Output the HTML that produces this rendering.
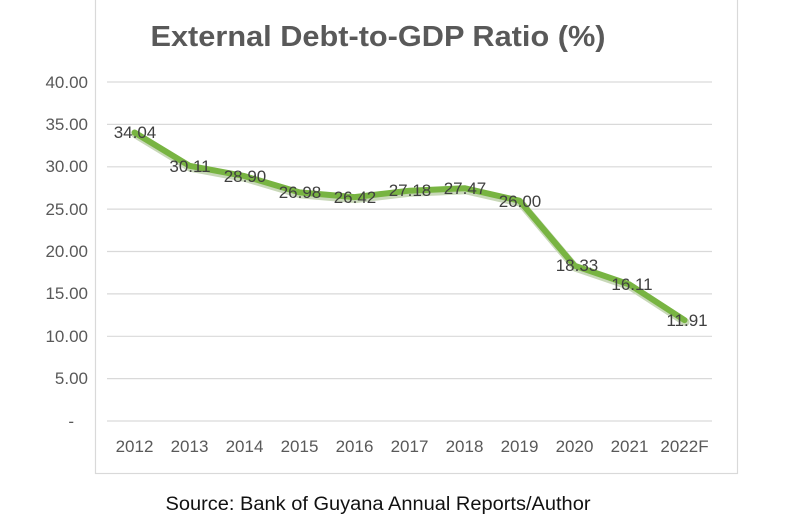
<!DOCTYPE html>
<html><head><meta charset="utf-8"><style>
body{margin:0;background:#fff;}
</style></head><body>
<svg width="798" height="523" xmlns="http://www.w3.org/2000/svg" style="display:block">
<rect x="0" y="0" width="798" height="523" fill="#fff"/>
<rect x="95.5" y="-2" width="642" height="475.5" fill="#fff" stroke="#d9d9d9" stroke-width="1.2"/>
<text x="378" y="46" text-anchor="middle" font-family="Liberation Sans, sans-serif" font-size="29" font-weight="bold" fill="#595959" textLength="455" lengthAdjust="spacingAndGlyphs">External Debt-to-GDP Ratio (%)</text>
<g stroke="#d9d9d9" stroke-width="1.2">
<line x1="107" x2="712" y1="82" y2="82"/><line x1="107" x2="712" y1="124.4" y2="124.4"/>
<line x1="107" x2="712" y1="166.8" y2="166.8"/><line x1="107" x2="712" y1="209.1" y2="209.1"/>
<line x1="107" x2="712" y1="251.5" y2="251.5"/><line x1="107" x2="712" y1="293.9" y2="293.9"/>
<line x1="107" x2="712" y1="336.3" y2="336.3"/><line x1="107" x2="712" y1="378.6" y2="378.6"/>
<line x1="107" x2="712" y1="421" y2="421"/>
</g>
<g font-family="Liberation Sans, sans-serif" font-size="17" fill="#595959" text-anchor="end">
<text x="88" y="88">40.00</text><text x="88" y="130">35.00</text><text x="88" y="172">30.00</text>
<text x="88" y="215">25.00</text><text x="88" y="257">20.00</text><text x="88" y="299">15.00</text>
<text x="88" y="342">10.00</text><text x="88" y="384">5.00</text><text x="74" y="427">-</text>
</g>
<g font-family="Liberation Sans, sans-serif" font-size="17" fill="#595959" text-anchor="middle">
<text x="134.5" y="452">2012</text><text x="189.5" y="452">2013</text><text x="244.5" y="452">2014</text>
<text x="299.5" y="452">2015</text><text x="354.5" y="452">2016</text><text x="409.5" y="452">2017</text>
<text x="464.5" y="452">2018</text><text x="519.5" y="452">2019</text><text x="574.5" y="452">2020</text>
<text x="629.5" y="452">2021</text><text x="684.5" y="452">2022F</text>
</g>
<polyline fill="none" stroke="#c8d8b8" stroke-width="8" stroke-linejoin="round" stroke-linecap="round" transform="translate(1,2)"
points="134.5,132.5 189.5,165.8 244.5,176.1 299.5,192.4 354.5,197.1 409.5,190.7 464.5,188.2 519.5,200.7 574.5,265.7 629.5,284.5 684.5,320.1"/>
<polyline fill="none" stroke="#78b442" stroke-width="6" stroke-linejoin="round" stroke-linecap="round"
points="134.5,132.5 189.5,165.8 244.5,176.1 299.5,192.4 354.5,197.1 409.5,190.7 464.5,188.2 519.5,200.7 574.5,265.7 629.5,284.5 684.5,320.1"/>
<g font-family="Liberation Sans, sans-serif" font-size="17" fill="#404040" text-anchor="middle">
<text x="135" y="138">34.04</text><text x="190" y="172">30.11</text><text x="245" y="182">28.90</text>
<text x="300" y="198">26.98</text><text x="355" y="203">26.42</text><text x="410" y="196">27.18</text>
<text x="465" y="194">27.47</text><text x="520" y="207">26.00</text><text x="577" y="271">18.33</text>
<text x="632" y="290">16.11</text><text x="687" y="326">11.91</text>
</g>
<text x="378" y="510" text-anchor="middle" font-family="Liberation Sans, sans-serif" font-size="19" fill="#111" textLength="425" lengthAdjust="spacingAndGlyphs">Source: Bank of Guyana Annual Reports/Author</text>
</svg>
</body></html>
